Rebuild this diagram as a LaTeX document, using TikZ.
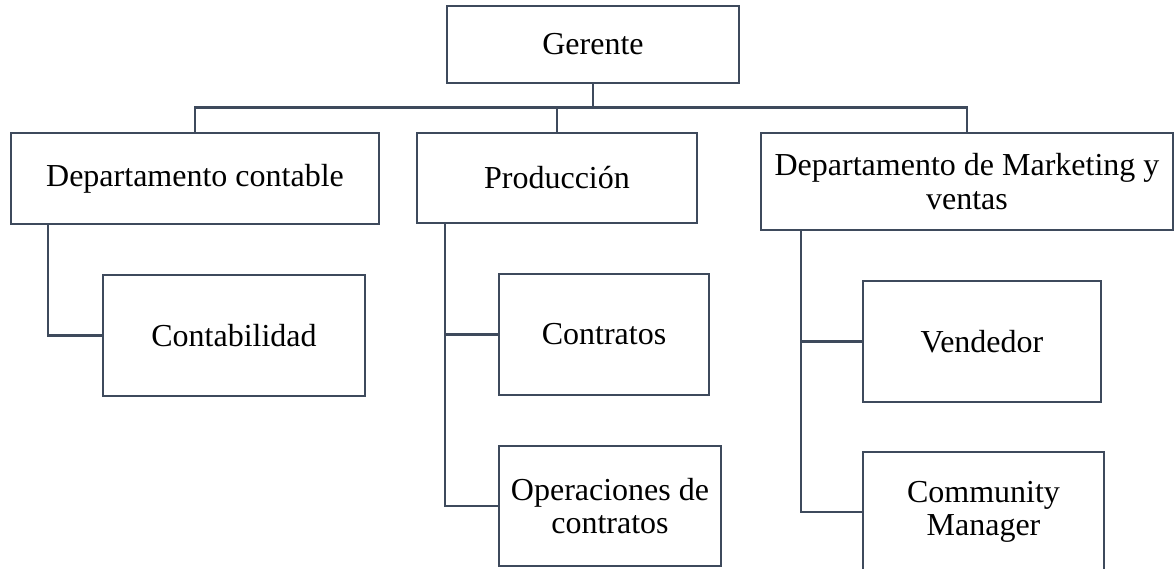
\documentclass[tikz,border=0pt]{standalone}
\usepackage{fontspec}
\setmainfont{Liberation Serif}
\definecolor{linec}{HTML}{3E4A5C}
\begin{document}
\begin{tikzpicture}[x=0.75pt,y=-0.75pt,
  box/.style={draw=linec,line width=1.8pt,rectangle,inner sep=0pt,align=center,
    font=\fontsize{24}{25}\selectfont},
  sz/.style 2 args={minimum width=#1*0.75pt,minimum height=#2*0.75pt},
  conn/.style={draw=linec,line width=1.8pt}]
\useasboundingbox (0,0) rectangle (1175,568);
\clip (0,0) rectangle (1175,568);
\node[box,sz={292}{77}] (ger) at (593,44.5) {Gerente};
\node[box,sz={368}{91}] (dc) at (195,178.5) {Departamento contable};
\node[box,sz={280}{90}] (prod) at (557,178) {Producción};
\node[box,sz={412}{97}] (mk) at (967,181.5) {Departamento de Marketing y\\ventas};
\node[box,sz={262}{121}] (cont) at (234,335.5) {Contabilidad};
\node[box,sz={210}{121}] (ctr) at (604,334.5) {Contratos};
\node[box,sz={222}{120}] (ops) at (610,506) {Operaciones de\\contratos};
\node[box,sz={238}{121}] (ven) at (982,341.5) {Vendedor};
\node[box,sz={241}{120}] (cm) at (983.5,512) {Community\\Manager};
\coordinate (bus) at (0,107.5);
\coordinate (dcs) at (48,0);
\coordinate (ps) at (445,0);
\coordinate (ms) at (801,0);
\draw[conn] (ger.south) -- (ger.south |- bus);
\draw[conn] (dc.north) -- (dc.north |- bus) -- (mk.north |- bus) -- (mk.north);
\draw[conn] (prod.north) -- (prod.north |- bus);
\draw[conn] (dcs |- dc.south) |- (cont.west);
\draw[conn] (ps |- prod.south) |- (ops.west);
\draw[conn] (ps |- ctr.west) -- (ctr.west);
\draw[conn] (ms |- mk.south) |- (cm.west);
\draw[conn] (ms |- ven.west) -- (ven.west);
\end{tikzpicture}
\end{document}
